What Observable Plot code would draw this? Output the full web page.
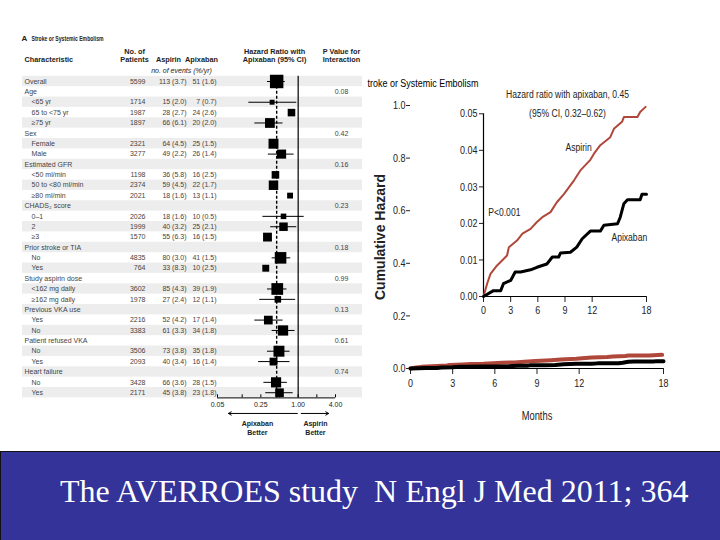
<!DOCTYPE html>
<html><head><meta charset="utf-8">
<script src="https://cdn.jsdelivr.net/npm/d3@7"></script>
<script src="https://cdn.jsdelivr.net/npm/@observablehq/plot@0.6"></script>
<style>
html,body{margin:0;padding:0;background:#fff;}
#page{position:relative;width:720px;height:540px;overflow:hidden;background:#fff;}
.layer{position:absolute;}
.layer svg{background:transparent !important;overflow:visible;}
#banner{position:absolute;left:0;top:451px;width:720px;height:89px;background:#333399;border-top:1px solid #111;border-left:1px solid #111;box-sizing:border-box;}
</style></head>
<body>
<div id="page">
  <div id="forest" class="layer" style="left:0;top:0"></div>
  <div id="outer" class="layer" style="left:355px;top:70px"></div>
  <div id="inset" class="layer" style="left:425px;top:75px"></div>
  <div id="banner"><svg width="720" height="89"><text x="59" y="50" font-family="'Liberation Serif','Times New Roman',serif" font-size="32" fill="#fff" style="white-space:pre">The AVERROES study  N Engl J Med 2011; 364</text></svg></div>
</div>
<script>
// ---------------- Forest plot data ----------------
const characteristic = ["Overall","Age","<65 yr","65 to <75 yr","≥75 yr","Sex","Female","Male","Estimated GFR","<50 ml/min","50 to <80 ml/min","≥80 ml/min","CHADS₂ score","0–1","2","≥3","Prior stroke or TIA","No","Yes","Study aspirin dose","<162 mg daily","≥162 mg daily","Previous VKA use","Yes","No","Patient refused VKA","No","Yes","Heart failure","No","Yes"];
const level = [0,0,1,1,1,0,1,1,0,1,1,1,0,1,1,1,0,1,1,0,1,1,0,1,1,0,1,1,0,1,1];
const patients = [5599,null,1714,1987,1897,null,2321,3277,null,1198,2374,2021,null,2026,1999,1570,null,4835,764,null,3602,1978,null,2216,3383,null,3506,2093,null,3428,2171];
const aspirinEvents = [113,null,15,28,66,null,64,49,null,36,59,18,null,18,40,55,null,80,33,null,85,27,null,52,61,null,73,40,null,66,45];
const aspirinRate = [3.7,null,2.0,2.7,6.1,null,4.5,2.2,null,5.8,4.5,1.6,null,1.6,3.2,6.3,null,3.0,8.3,null,4.3,2.4,null,4.2,3.3,null,3.8,3.4,null,3.6,3.8];
const apixabanEvents = [51,null,7,24,20,null,25,26,null,16,22,13,null,10,25,16,null,41,10,null,39,12,null,17,34,null,35,16,null,28,23];
const apixabanRate = [1.6,null,0.7,2.6,2.0,null,1.5,1.4,null,2.5,1.7,1.1,null,0.5,2.1,1.5,null,1.5,2.5,null,1.9,1.1,null,1.4,1.8,null,1.8,1.4,null,1.5,1.8];
const hazardRatio = [0.45,null,0.38,0.78,0.35,null,0.40,0.54,null,0.43,0.40,0.74,null,0.58,0.58,0.32,null,0.52,0.30,null,0.46,0.47,null,0.33,0.57,null,0.49,0.40,null,0.44,0.50];
const ciLower = [0.32,null,0.16,null,0.20,null,null,0.33,null,null,null,null,null,0.27,0.36,null,null,0.38,null,null,0.32,0.24,null,0.20,0.38,null,0.32,0.23,null,0.28,0.30];
const ciUpper = [0.62,null,0.95,null,0.57,null,null,0.86,null,null,null,null,null,1.25,0.95,null,null,0.76,null,null,0.66,0.91,null,0.57,0.89,null,0.74,0.74,null,0.67,0.83];
const pInteraction = [null,"0.08",null,null,null,"0.42",null,null,"0.16",null,null,null,"0.23",null,null,null,"0.18",null,null,"0.99",null,null,"0.13",null,null,"0.61",null,null,"0.74",null,null];
const hrTicks = [0.05,0.125,0.25,0.5,1,2,4];
const hrTickLabels = [0.05,0.25,1,4];

// ---------------- Cumulative hazard data ----------------
const aspirinMonths = [0,0.4,0.77,1.5,2.6,2.8,3.7,4.3,5.2,5.9,6.5,7.4,8.1,8.9,10.0,10.7,11.8,12.2,12.9,14.0,14.4,15.3,15.5,17.0,17.3,17.9];
const aspirinHazard = [0,0.0035,0.0062,0.0085,0.0112,0.0135,0.0153,0.0172,0.0185,0.0204,0.0217,0.0231,0.0258,0.0281,0.0318,0.0345,0.0374,0.0391,0.0414,0.0436,0.0459,0.0478,0.0491,0.0491,0.0505,0.0519];
const apixabanMonths = [0,1.1,1.9,2.2,3.0,3.5,4.1,5.2,5.9,7.0,7.6,8.3,8.5,9.6,10.3,10.9,11.8,12.9,13.3,14.8,15.1,15.5,15.9,17.3,17.5,18.0];
const apixabanHazard = [0,0.0016,0.0016,0.0035,0.0044,0.0067,0.0067,0.0073,0.008,0.0089,0.0108,0.0108,0.0119,0.0121,0.0135,0.0158,0.0179,0.0179,0.0195,0.0199,0.0217,0.0254,0.0265,0.0265,0.028,0.028];
const monthTicks = [0,3,6,9,12,18];
const outerTicks = [0,0.2,0.4,0.6,0.8,1.0];
const insetTicks = [0,0.01,0.02,0.03,0.04,0.05];

// narrow the glyphs of text (real text kept) around each anchor point
function condense(svg, scaleFor) {
  svg.querySelectorAll("text").forEach(t => {
    const s = scaleFor(t.textContent);
    if (!s || s === 1) return;
    const tr = t.getAttribute("transform");
    if (tr) t.setAttribute("transform", tr + ` scale(${s},1)`);
    else {
      const x = +(t.getAttribute("x") || 0), y = +(t.getAttribute("y") || 0);
      t.removeAttribute("x"); t.removeAttribute("y");
      t.setAttribute("transform", `translate(${x},${y}) scale(${s},1)`);
    }
  });
}

// ---------------- Forest plot ----------------
const SANS = "'Liberation Sans',Arial,sans-serif";
const n = characteristic.length;
const rows = characteristic.map((c,i)=>({i,c,level:level[i],n:patients[i],ae:aspirinEvents[i],ar:aspirinRate[i],pe:apixabanEvents[i],pr:apixabanRate[i],hr:hazardRatio[i],lo:ciLower[i],hi:ciUpper[i],p:pInteraction[i],events:(aspirinEvents[i]??0)+(apixabanEvents[i]??0)}));
const fmtEv = (e,r)=> `${e} (${r.toFixed(1)})`;
const FL = 217, FR = 335, FT = 75.8, FB = 397.4, FW = 370, FH = 445;
const note = (str, px, py, o={}) => Plot.text([str], {frameAnchor:"top-left", dx:px-FL, dy:py-FT, lineAnchor:"middle", fill:"#222", ...o});
const hdr = {fontWeight:"bold", fontSize:7.3};
const ROW = "#444";
const forest = Plot.plot({
  width:FW, height:FH, marginLeft:FL, marginRight:FW-FR, marginTop:FT, marginBottom:FH-FB,
  x:{type:"log", domain:[0.05,4], axis:null},
  y:{domain:[n-0.5,-0.5], axis:null},
  r:{range:[0,7.6]},
  style:{fontFamily:SANS, fontSize:"7px", background:"transparent", color:"#222"},
  marks:[
    Plot.rect(rows.filter(d=>d.i%2===0), {y1:d=>d.i-0.5, y2:d=>d.i+0.5, fill:"#ededed", insetLeft:-(FL-22), insetRight:-(362-FR)}),
    Plot.ruleX([1], {y1:-0.5, y2:n-0.5, stroke:"#000", strokeWidth:1.2}),
    Plot.ruleX([hazardRatio[0]], {y1:-0.5, y2:n-0.5, stroke:"#000", strokeWidth:1.4, strokeDasharray:"3,2"}),
    Plot.ruleY(rows.filter(d=>d.lo!=null), {y:"i", x1:"lo", x2:"hi", stroke:"#000", strokeWidth:1}),
    Plot.dot(rows.filter(d=>d.hr!=null), {x:"hr", y:"i", r:"events", symbol:"square", fill:"#000", stroke:"none"}),
    // axis
    Plot.ruleY([n-0.5], {x1:0.05, x2:4, stroke:"#000", strokeWidth:1}),
    Plot.ruleX(hrTicks, {x:d=>d, y1:n-0.5, y2:n-0.8, stroke:"#000"}),
    Plot.text(hrTickLabels, {x:d=>d, y:n-0.5, dy:7, text:d=>d.toFixed(2), fill:"#222"}),
    Plot.arrow([0], {x1:0.97, x2:0.075, y1:n+1, y2:n+1, headLength:5, strokeWidth:1, stroke:"#000"}),
    Plot.arrow([0], {x1:1.12, x2:3.1, y1:n+1, y2:n+1, headLength:5, strokeWidth:1, stroke:"#000"}),
    Plot.text(["Apixaban\nBetter"], {x:0.22, y:n-0.5, dy:22, lineAnchor:"top", lineHeight:1.25, fontWeight:"bold", fill:"#222"}),
    Plot.text(["Aspirin\nBetter"], {x:1.9, y:n-0.5, dy:22, lineAnchor:"top", lineHeight:1.25, fontWeight:"bold", fill:"#222"}),
    // table columns
    Plot.text(rows.filter(d=>d.level===0), {y:"i", text:"c", frameAnchor:"left", textAnchor:"start", dx:24-FL, fill:ROW}),
    Plot.text(rows.filter(d=>d.level===1), {y:"i", text:"c", frameAnchor:"left", textAnchor:"start", dx:31-FL, fill:ROW}),
    Plot.text(rows.filter(d=>d.n!=null), {y:"i", text:d=>String(d.n), frameAnchor:"left", textAnchor:"end", dx:145-FL, fill:ROW}),
    Plot.text(rows.filter(d=>d.ae!=null), {y:"i", text:d=>fmtEv(d.ae,d.ar), frameAnchor:"left", textAnchor:"end", dx:186-FL, fill:ROW}),
    Plot.text(rows.filter(d=>d.pe!=null), {y:"i", text:d=>fmtEv(d.pe,d.pr), frameAnchor:"left", textAnchor:"end", dx:216-FL, fill:ROW}),
    Plot.text(rows.filter(d=>d.p!=null), {y:"i", text:"p", frameAnchor:"right", textAnchor:"middle", dx:341-FR, fill:ROW}),
    // headers
    note("A", 21, 38, {fontWeight:"bold", fontSize:8, textAnchor:"start"}),
    note("Stroke or Systemic Embolism", 31, 38, {fontWeight:"bold", fontSize:7.3, textAnchor:"start"}),
    note("Characteristic", 24, 59, {...hdr, textAnchor:"start"}),
    note("No. of", 134, 51, {...hdr, textAnchor:"middle"}),
    note("Patients", 134, 59, {...hdr, textAnchor:"middle"}),
    note("Aspirin", 168, 59, {...hdr, textAnchor:"middle"}),
    note("Apixaban", 201, 59, {...hdr, textAnchor:"middle"}),
    note("no. of events (%/yr)", 181, 70, {fontStyle:"italic", textAnchor:"middle"}),
    note("Hazard Ratio with", 274, 51, {...hdr, textAnchor:"middle"}),
    note("Apixaban (95% CI)", 274, 59, {...hdr, textAnchor:"middle"}),
    note("P Value for", 341, 51, {...hdr, textAnchor:"middle"}),
    note("Interaction", 341, 59, {...hdr, textAnchor:"middle"})
  ]
});
condense(forest, t => t === "Stroke or Systemic Embolism" ? 0.7 : null);
document.getElementById("forest").append(forest);

// ---------------- Cumulative hazard: outer ----------------
const aspirinSeries = aspirinMonths.map((m,i)=>({m, v:aspirinHazard[i]}));
const apixabanSeries = apixabanMonths.map((m,i)=>({m, v:apixabanHazard[i]}));
const RED = "#b0473b";
const outer = Plot.plot({
  width:330, height:360, marginLeft:55, marginRight:22, marginTop:35, marginBottom:62,
  x:{domain:[0,18], ticks:monthTicks, tickSize:6, tickPadding:4, label:null},
  y:{domain:[0,1], ticks:outerTicks, tickFormat:d3.format(".1f"), tickSize:4, tickPadding:1, label:null},
  style:{fontFamily:SANS, fontSize:"11.5px", background:"transparent", color:"#222"},
  marks:[
    Plot.line(aspirinSeries, {x:"m", y:"v", stroke:RED, strokeWidth:4}),
    Plot.line(apixabanSeries, {x:"m", y:"v", stroke:"#000", strokeWidth:4}),
    Plot.ruleY([0], {stroke:"#000", strokeWidth:1.2}),
    Plot.text(["troke or Systemic Embolism"], {frameAnchor:"top-left", dx:-43, dy:-22, textAnchor:"start", lineAnchor:"middle", fontSize:11.5, fill:"#000"}),
    Plot.text(["Cumulative Hazard"], {frameAnchor:"left", dx:-30, rotate:-90, textAnchor:"middle", lineAnchor:"middle", fontWeight:"bold", fontSize:14, fill:"#222"}),
    Plot.text(["Months"], {frameAnchor:"bottom", dy:47, lineAnchor:"middle", fontSize:13, fill:"#222"})
  ]
});
condense(outer, t => t === "Cumulative Hazard" ? null : t === "Months" ? 0.72 : 0.78);
document.getElementById("outer").append(outer);

// ---------------- Cumulative hazard: inset ----------------
const inset = Plot.plot({
  width:240, height:250, marginLeft:58, marginRight:19, marginTop:38.3, marginBottom:29,
  x:{domain:[0,18], ticks:monthTicks, tickSize:6, tickPadding:3, label:null},
  y:{domain:[0,0.05], ticks:insetTicks, tickFormat:d3.format(".2f"), tickSize:4, tickPadding:2, label:null},
  style:{fontFamily:SANS, fontSize:"11.5px", background:"transparent", color:"#222"},
  marks:[
    Plot.ruleX([0], {y1:0, y2:0.05, stroke:"#000", strokeWidth:1.2}),
    Plot.ruleY([0], {x1:0, x2:18, stroke:"#000", strokeWidth:1.2}),
    Plot.line(aspirinSeries, {x:"m", y:"v", stroke:RED, strokeWidth:2}),
    Plot.line(apixabanSeries, {x:"m", y:"v", stroke:"#000", strokeWidth:3}),
    Plot.text(["Hazard ratio with apixaban, 0.45"], {frameAnchor:"top", dx:2.5, dy:-19, lineAnchor:"middle", fontSize:11, fill:"#222"}),
    Plot.text(["(95% CI, 0.32–0.62)"], {frameAnchor:"top", dx:2.5, dy:0, lineAnchor:"middle", fontSize:11, fill:"#222"}),
    Plot.text(["Aspirin"], {x:10.5, y:0.0408, fontSize:11, fill:"#222"}),
    Plot.text(["P<0.001"], {x:2.3, y:0.023, fontSize:11, fill:"#222"}),
    Plot.text(["Apixaban"], {x:16.1, y:0.0162, fontSize:11, fill:"#222"})
  ]
});
condense(inset, t => 0.78);
document.getElementById("inset").append(inset);
</script>
</body></html>
